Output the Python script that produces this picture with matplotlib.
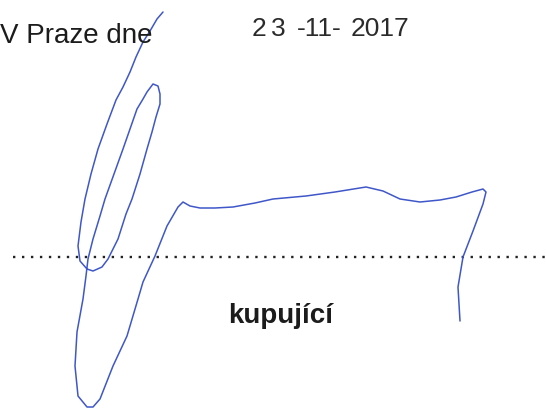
import numpy as np
import matplotlib
import matplotlib.pyplot as plt

matplotlib.use('Agg')

# signature stroke, pixel coords (y grows downwards)
sig_x = [163, 157, 150, 143, 136, 130, 123, 116, 107, 98, 91, 85, 81, 78, 80, 87, 93, 102, 108,
         118, 126, 132, 140, 147, 152, 156, 160, 160, 158, 153, 147, 143, 137, 130, 123, 114, 105,
         100, 93, 88, 86, 83, 77, 75, 78, 87, 93, 100, 113, 127, 138, 143, 155, 167, 178, 183,
         190, 200, 215, 233, 255, 273, 306, 335, 366, 383, 400, 420, 440, 456, 472, 483, 486,
         483, 473, 463, 458, 460]
sig_y = [13, 20, 32, 43, 58, 73, 88, 101, 125, 150, 175, 200, 223, 247, 262, 270, 272, 268, 260,
         240, 215, 200, 175, 150, 133, 118, 105, 95, 87, 85, 93, 100, 110, 130, 150, 175, 200,
         217, 240, 260, 277, 300, 333, 367, 397, 408, 408, 400, 367, 337, 300, 283, 257, 227, 208, 203,
         207, 209, 209, 208, 204, 200, 197, 193, 188, 192, 200, 203, 201, 198, 193, 190, 193,
         205, 232, 258, 288, 322]

place_text = 'V Praze dne'
role_text = 'kupující'
stamp_parts = ['2', '3', '-11-', '2017']
stamp_centers = [259, 278, 319, 380]

line_from, line_to, line_y = 13, 546, 258

fig = plt.figure(figsize=(5.46, 4.10), dpi=100)
ax = fig.add_axes([0, 0, 1, 1])
ax.set_xlim(0, 546)
ax.set_ylim(410, 0)
ax.axis('off')

ax.text(0, 43, place_text, fontsize=20, family=['Liberation Sans', 'DejaVu Sans'],
        color='#1c1c1c', ha='left', va='baseline')

# date stamp, groups placed where the stamp left them
for part, cx in zip(stamp_parts, stamp_centers):
    ax.text(cx, 36, part, fontsize=19, family=['Liberation Sans', 'DejaVu Sans'],
            color='#2b2b2b', ha='center', va='baseline')

# dotted signing line
ax.plot([line_from, line_to], [line_y, line_y], color='#222222', lw=1.7,
        linestyle=(0, (1, 2.8)), dash_capstyle='butt')

ax.text(281, 323, role_text, fontsize=20, fontweight='bold',
        family=['Liberation Sans', 'DejaVu Sans'], color='#1c1c1c',
        ha='center', va='baseline')

ax.plot(sig_x, sig_y, color='#3f57c9', lw=1.1, solid_joinstyle='round',
        solid_capstyle='round')

fig.savefig('out.png', dpi=100, facecolor='white')
